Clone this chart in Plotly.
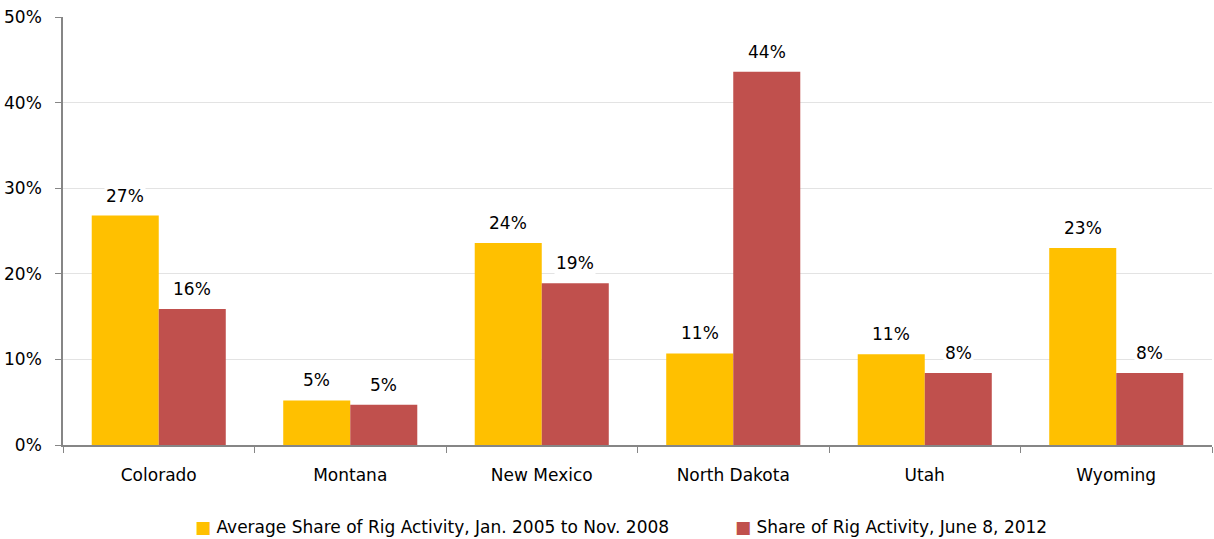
import plotly.graph_objects as go

states = ["Colorado", "Montana", "New Mexico", "North Dakota", "Utah", "Wyoming"]
avg_2005_2008 = [26.8, 5.2, 23.6, 10.7, 10.6, 23.0]
june_2012 = [15.9, 4.7, 18.9, 43.6, 8.4, 8.4]
series_names = [
    "Average Share of Rig Activity, Jan. 2005 to Nov. 2008",
    "Share of Rig Activity, June 8, 2012",
]
y_ticks = [0, 10, 20, 30, 40, 50]
y_tick_labels = ["0%", "10%", "20%", "30%", "40%", "50%"]

FONT = "DejaVu Sans"
FS = 17
colors = ["#FFC000", "#C0504D"]

L, R, T, B = 63, 2, 17, 94
W, H = 1214, 539
pw, ph = W - L - R, H - T - B

fig = go.Figure()
for name, vals, col in zip(series_names, [avg_2005_2008, june_2012], colors):
    fig.add_trace(go.Bar(
        x=states, y=vals, name=name, marker=dict(color=col, line=dict(width=0)),
        offsetgroup=name, showlegend=False,
    ))

# value labels with white background above each bar
n = len(series_names)
for i, vals in enumerate([avg_2005_2008, june_2012]):
    for j, v in enumerate(vals):
        fig.add_annotation(
            x=j, y=v, xref="x", yref="y",
            text=f"{round(v):d}%", showarrow=False,
            yanchor="bottom", yshift=8,
            xshift=(i - (n - 1) / 2) * 67,
            bgcolor="white", borderpad=1,
            font=dict(family=FONT, size=FS, color="#000000"),
        )

# legend row below the axis: colour key + series name
legend_left_px = [193, 733]
for name, col, px in zip(series_names, colors, legend_left_px):
    fig.add_annotation(
        x=(px - L) / pw, y=(H - B - 527) / ph, xref="paper", yref="paper",
        xanchor="left", yanchor="middle", showarrow=False,
        text=f"<span style='color:{col}'>■</span> {name}",
        font=dict(family=FONT, size=FS, color="#000000"),
    )

fig.update_layout(
    width=W, height=H,
    margin=dict(l=L, r=R, t=T, b=B, autoexpand=False),
    plot_bgcolor="white", paper_bgcolor="white",
    barmode="group", bargap=0.3, bargroupgap=0,
    font=dict(family=FONT, size=FS, color="#000000"),
    showlegend=False,
    xaxis=dict(
        type="category", showline=True, linecolor="#868686", linewidth=1.5,
        ticks="outside", tickson="boundaries", ticklen=6, tickcolor="#868686",
        showgrid=False, tickfont=dict(family=FONT, size=FS),
        ticklabelstandoff=14,
    ),
    yaxis=dict(
        range=[0, 50], tickvals=y_ticks, ticktext=y_tick_labels,
        showline=True, linecolor="#868686", linewidth=1.5,
        ticks="outside", ticklen=6, tickcolor="#868686",
        showgrid=True, gridcolor="#E3E3E3", gridwidth=1, zeroline=False,
        tickfont=dict(family=FONT, size=FS), ticklabelstandoff=10,
    ),
)

fig.write_html("out.html")
